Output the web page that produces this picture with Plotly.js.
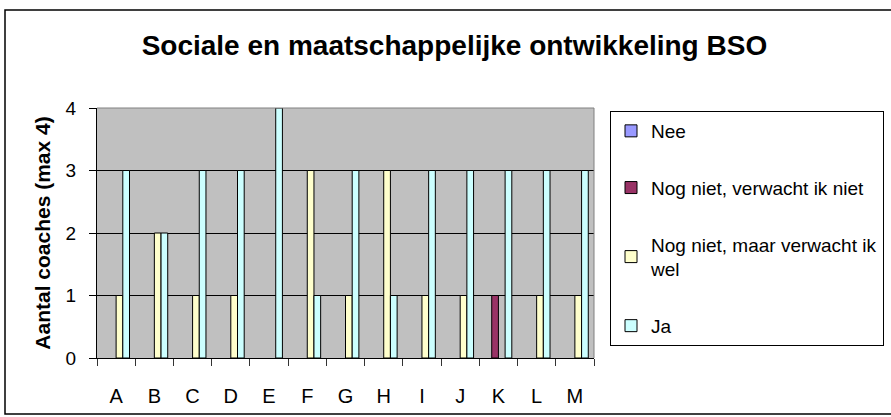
<!DOCTYPE html>
<html><head><meta charset="utf-8">
<script src="https://cdn.plot.ly/plotly-3.0.1.min.js"></script>
<style>html,body{margin:0;padding:0;background:#fff}</style>
</head><body>
<div id="chart" style="width:891px;height:417px"></div>
<script>
const categories = ["A","B","C","D","E","F","G","H","I","J","K","L","M"];
const seriesNames = ["Nee","Nog niet, verwacht ik niet","Nog niet, maar verwacht ik<br>wel","Ja"];
const nee        = [0,0,0,0,0,0,0,0,0,0,0,0,0];
const nogNietNiet= [0,0,0,0,0,0,0,0,0,0,1,0,0];
const nogNietWel = [1,2,1,1,0,3,1,3,1,1,0,1,1];
const ja         = [3,2,3,3,4,1,3,1,3,3,3,3,3];
const colors = ["#9999FF","#993366","#FFFFCC","#CCFFFF"];
const values = [nee, nogNietNiet, nogNietWel, ja];

const W=891,H=417, L=97, R=594, T=108, B=358;
const pw=R-L, ph=B-T;
const px = v => (v-L)/pw, py = v => (B-v)/ph;

const traces = values.map((v,i)=>({
  type:'bar', x:categories, y:v.map(d => d === 0 ? null : d), name:seriesNames[i],
  legendgroup:'g'+i,
  marker:{color:colors[i], line:{color:'#000', width:1}},
  hoverinfo:'x+y+name'
}));

const layout = {
  width:W, height:H,
  margin:{l:L, r:W-R, t:T, b:H-B, pad:0, autoexpand:false},
  paper_bgcolor:'#fff', plot_bgcolor:'#C0C0C0',
  font:{family:'Liberation Sans, Arial, sans-serif', color:'#000', size:19},
  title:{text:'<b>Sociale en maatschappelijke ontwikkeling BSO</b>', font:{size:28}, x:0.51, xanchor:'center', y:1-45/H, yanchor:'middle'},
  bargap:0.30, bargroupgap:0,
  showlegend:true,
  legend:{x:px(610), xanchor:'left', y:py(111), yanchor:'top', bordercolor:'#000', borderwidth:1,
    bgcolor:'#fff', font:{size:19}, traceorder:'grouped', tracegroupgap:29, itemwidth:30},
  xaxis:{type:'category', tickson:'boundaries', ticks:'outside', ticklen:7, tickcolor:'#333',
    showline:true, linecolor:'#000', linewidth:1, showgrid:false, zeroline:false,
    ticklabelstandoff:20, tickfont:{size:20}, fixedrange:true},
  yaxis:{range:[0,4], dtick:1, ticks:'outside', ticklen:7, tickcolor:'#000',
    showline:true, linecolor:'#000', linewidth:1, showgrid:true, gridcolor:'#000', gridwidth:1,
    zeroline:false, tickfont:{size:19}, ticklabelstandoff:9,
    title:{text:'<b>Aantal coaches (max 4)</b>', font:{size:21}, standoff:9}, fixedrange:true},
  shapes:[
    {type:'rect', xref:'paper', yref:'paper', x0:px(5), x1:px(900), y0:py(414), y1:py(10),
     line:{color:'#000', width:1.5}, fillcolor:'rgba(0,0,0,0)', layer:'below'},
    {type:'line', xref:'paper', yref:'paper', x0:0, x1:1, y0:1, y1:1, line:{color:'#808080', width:1}},
    {type:'line', xref:'paper', yref:'paper', x0:1, x1:1, y0:0, y1:1, line:{color:'#808080', width:1}}
  ]
};
Plotly.newPlot('chart', traces, layout, {displayModeBar:false, staticPlot:true});
</script>
</body></html>
